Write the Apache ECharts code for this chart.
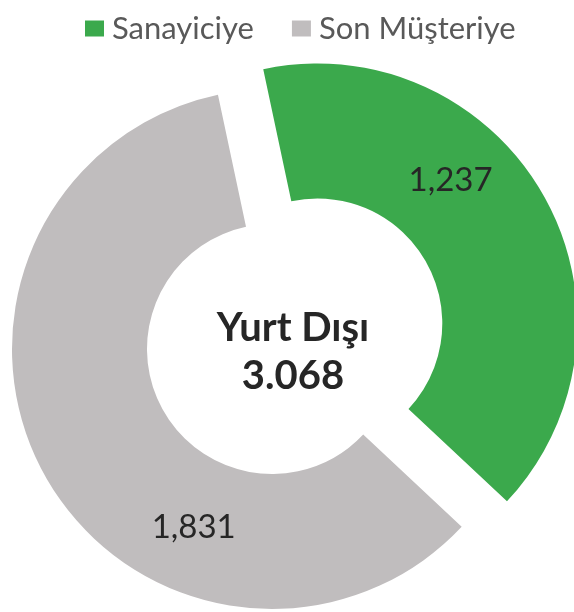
<!DOCTYPE html>
<html>
<head>
<meta charset="utf-8">
<script src="https://cdn.jsdelivr.net/npm/echarts@6/dist/echarts.min.js"></script>
<style>
  html, body { margin: 0; padding: 0; background: #fff; }
  #chart { width: 574px; height: 612px; }
</style>
</head>
<body>
<div id="chart"></div>
<script>
const categories = ['Sanayiciye', 'Son Müşteriye']
const values = [1237, 1831]
const colors = ['#3ba94c', '#c0bdbe']
const centerTitle = 'Yurt Dışı'

// 1,237 style for slices, 3.068 style for the total
const fmtComma = v => String(v).replace(/\B(?=(\d{3})+(?!\d))/g, ',')
const fmtDot = v => String(v).replace(/\B(?=(\d{3})+(?!\d))/g, '.')
const total = values.reduce((a, b) => a + b, 0)

const chart = echarts.init(document.getElementById('chart'))

const option = {
  animation: false,
  title: {
    text: centerTitle + '\n' + fmtDot(total),
    left: 288,
    top: 299,
    textAlign: 'center',
    textStyle: {
      fontFamily: 'Lato',
      fontSize: 40,
      fontWeight: 'bold',
      color: '#262626',
      lineHeight: 48
    }
  },
  legend: {
    data: categories,
    left: 80,
    top: 8,
    itemWidth: 19,
    itemHeight: 16,
    itemGap: 38,
    icon: 'rect',
    selectedMode: false,
    textStyle: {
      fontFamily: 'Lato',
      fontSize: 31,
      color: '#595959',
      padding: [0, 0, 0, 3]
    }
  },
  series: [{
    type: 'pie',
    center: [272, 349],
    radius: [125, 260],
    startAngle: 102,
    clockwise: true,
    selectedMode: 'single',
    selectedOffset: 52,
    silent: true,
    avoidLabelOverlap: false,
    emphasis: { disabled: true },
    label: {
      show: true,
      position: 'inside',
      fontFamily: 'Lato',
      fontSize: 33,
      color: '#262626',
      formatter: p => fmtComma(p.value)
    },
    labelLine: { show: false },
    labelLayout: p => (p.dataIndex === 0 ? { dx: -37, dy: -47 } : { dx: 92, dy: 82 }),
    data: categories.map((name, i) => ({
      name,
      value: values[i],
      selected: i === 0,
      itemStyle: { color: colors[i] }
    }))
  }]
}

chart.setOption(option)
</script>
</body>
</html>
